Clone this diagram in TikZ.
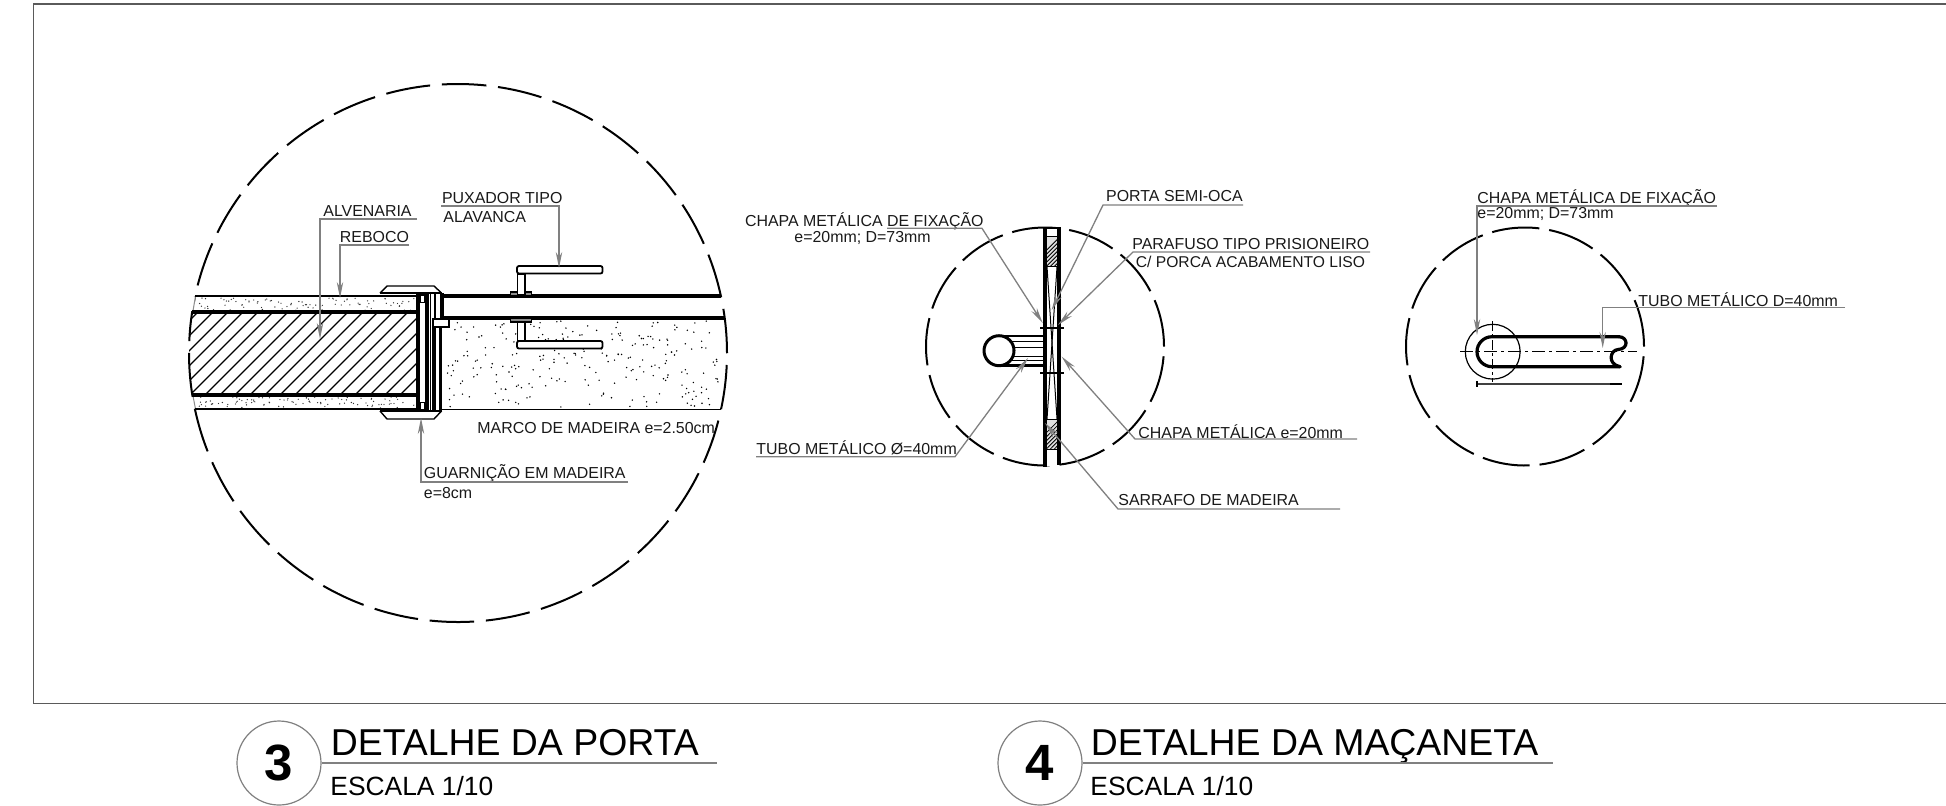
\documentclass[tikz,border=0pt]{standalone}
\usepackage{fontspec}
\setmainfont{Liberation Sans}
\usetikzlibrary{arrows.meta}
\definecolor{lead}{HTML}{808080}
\definecolor{framec}{HTML}{5A5A5A}
\tikzset{
 lab/.style={anchor=west,inner sep=0pt,font=\fontsize{7.96}{9}\selectfont,text=black!90},
 leader/.style={draw=lead,line width=.65pt},
 leadarrow/.style={draw=lead,line width=.65pt,-{Stealth[length=8pt,width=3.2pt,fill=lead]}},
 thick1/.style={line width=1.7pt,black},
 med1/.style={line width=1pt,black},
 thin1/.style={line width=.5pt,black},
 dashc/.style={line width=1pt,black,line cap=butt},
 ttl/.style={anchor=base west,inner sep=0pt,font=\fontsize{18.7}{20}\selectfont},
 sca/.style={anchor=base west,inner sep=0pt,font=\fontsize{13.2}{15}\selectfont},
 numc/.style={circle,draw=lead,line width=.6pt,minimum size=42pt,inner sep=0pt,font=\fontsize{25.5}{28}\selectfont\bfseries},
 dim1/.style={line width=.6pt,black!75},
}
\newcommand{\dashring}[6]{% cx cy r first-gap-centre period halfgap
  \pgfmathsetmacro{\nseg}{int(round(360/#5))-1}
  \foreach \k in {0,...,\nseg}{
    \pgfmathsetmacro{\aa}{#4+\k*#5+#6}
    \pgfmathsetmacro{\bb}{#4+(\k+1)*#5-#6}
    \draw[dashc] plot[smooth,domain=\aa:\bb,samples=9] ({#1+#3*cos(\x)},{#2-#3*sin(\x)});
  }}
\begin{document}
\begin{tikzpicture}[x=.5pt,y=-.5pt]
\useasboundingbox (0,0) rectangle (1946,805);
\fill[white] (0,0) rectangle (1946,805);
% frame
\draw[framec,line width=.7pt] (1946,4) -- (33.5,4) -- (33.5,703.5) -- (1946,703.5);

% ---------- DETAIL 3 ----------
% wall hatch
\begin{scope}
 \clip (458,353) circle[radius=134.5pt];
 \clip (185,312) rectangle (417,395);
 \foreach \i in {0,...,24}{
   \draw[line width=.55pt] ({100+\i*15},395) -- ({100+\i*15+83},312);
 }
\end{scope}
% render speckle
\pgfmathsetseed{11}
\foreach \i in {1,...,95}{
  \fill[black!80] ({198+rnd*218},{298+rnd*13}) circle[radius=.34pt];
  \fill[black!80] ({198+rnd*218},{397+rnd*11}) circle[radius=.34pt];
}
\foreach \i in {1,...,250}{
  \pgfmathsetmacro{\px}{446+rnd*274}
  \pgfmathsetmacro{\py}{321+rnd*86}
  \fill[black] (\px,\py) circle[radius=.4pt];
}
% break circle
\dashring{458}{353}{269}{34.7}{12}{1.25}
\fill[white] (185,297) rectangle (194.8,310.8);
\fill[white] (185,396.6) rectangle (194.8,408);
\draw[black!45,line width=.5pt] (195.5,296) -- (193,311);
\draw[black!45,line width=.5pt] (193,396) -- (195.5,409);
% wall lines
\draw[line width=.75pt] (195,296) -- (418,296);
\draw[line width=.75pt] (195,409) -- (418,409);
\draw[thick1] (192,312) -- (417,312);
\draw[thick1] (192,395) -- (417,395);
% door lines
\draw[thick1] (441,296) -- (721,296);
\draw[thick1] (441,318) -- (724.5,318);
\draw[line width=.85pt] (441,409.5) -- (721,409.5);
% frame and casing
\fill[white] (419,294) rectangle (441,410);
\draw[med1] (380,293) -- (441.5,293);
\draw[med1] (380,411) -- (441.5,411);
\draw[line width=.7pt] (380,293) -- (387,286) -- (434,286) -- (441.5,293);
\draw[line width=.7pt] (380,411) -- (387,419) -- (434,419) -- (441.5,411);
\draw[thick1] (418,293) -- (418,411);
\draw[thick1] (427,293) -- (427,411);
\draw[thin1] (430.5,293) -- (430.5,411);
\draw[line width=.8pt] (435,293) -- (435,411);
\draw[line width=.8pt] (433,326) -- (433,411);
\draw[thick1] (442,293) -- (442,318);
\draw[thick1] (440.5,327) -- (440.5,411);
\draw[line width=.7pt,fill=white] (420,295) rectangle (424.5,302.5);
\draw[line width=.7pt,fill=white] (420,402.5) rectangle (424.5,410);
\draw[line width=.7pt,fill=white] (433,319) rectangle (449,327);
% handle
\draw[line width=.6pt,fill=black!45] (510.5,292) rectangle (531.5,296);
\draw[line width=.6pt,fill=black!45] (510.5,318) rectangle (531.5,322);
\draw[line width=.9pt,fill=white] (517.5,274) rectangle (525,295);
\draw[line width=.9pt,fill=white] (517.5,322) rectangle (525,341);
\draw[line width=.9pt,fill=white,rounded corners=1pt] (517,266) rectangle (602.5,273.5);
\draw[line width=.9pt,fill=white,rounded corners=1pt] (517,341) rectangle (602.5,348.5);
% labels
\node[lab] (alv) at (323,211) {ALVENARIA};
\node[lab] (reb) at (339.5,237) {REBOCO};
\node[lab] (pux) at (441.7,198) {PUXADOR TIPO};
\node[lab] (ala) at (443,217.5) {ALAVANCA};
\node[lab] (mar) at (477,428) {MARCO DE MADEIRA e=2.50cm};
\node[lab] (gua) at (423.5,473) {GUARNIÇÃO EM MADEIRA};
\node[lab] (e8) at (423.5,493) {e=8cm};
\coordinate (alvA) at (417,219); \coordinate (alvB) at (320,219); \coordinate (alvT) at (320,339);
\coordinate (rebA) at (409,245); \coordinate (rebB) at (340,245); \coordinate (rebT) at (340,298);
\coordinate (puxA) at (441,206); \coordinate (puxB) at (559,206); \coordinate (puxT) at (559,268);
\coordinate (guaA) at (628,482); \coordinate (guaB) at (421,482); \coordinate (guaT) at (421,418);
\draw[leadarrow] (alvA) -- (alvB) -- (alvT);
\draw[leadarrow] (rebA) -- (rebB) -- (rebT);
\draw[leadarrow] (puxA) -- (puxB) -- (puxT);
\draw[leadarrow] (guaA) -- (guaB) -- (guaT);

% ---------- DETAIL 4 centre ----------
\dashring{1045}{346.5}{119}{-2.4}{27.7}{2.4}
\fill[white] (1046,229) rectangle (1058,466);
\foreach \yy/\yb in {236.7/266.7,419/449.3}{
 \begin{scope}
  \clip (1046.7,\yy) rectangle (1057,\yb);
  \fill[black!12] (1046.7,\yy) rectangle (1057,\yb);
  \foreach \i in {0,...,14}{\draw[line width=.4pt] ({1030+\i*4},\yb) -- ({1030+\i*4+30},\yy);}
 \end{scope}
 \draw[line width=.5pt] (1046.7,\yy) rectangle (1057,\yb);
}
\draw[thin1] (1047,266.7) -- (1057,419);
\draw[thin1] (1057,266.7) -- (1047,419);
\draw[thin1] (1046,228) -- (1058,228);
\draw[line width=1.9pt] (1045,227) -- (1045,467);
\draw[line width=1.9pt] (1058.7,227) -- (1058.7,465);
\draw[line width=.9pt] (1040,328.3) -- (1064,328.3);
\draw[line width=.9pt] (1040,373.3) -- (1064,373.3);
% tube
\draw[line width=.5pt] (1000,341.7) -- (1043,341.7);
\draw[line width=.5pt] (1012,347.3) -- (1043,347.3);
\draw[line width=.5pt] (1012,356.7) -- (1043,356.7);
\draw[line width=.5pt] (1003,360.7) -- (1043,360.7);
\draw[line width=1.1pt] (999,336) -- (1043,336);
\draw[line width=1.1pt] (999,365.5) -- (1043,365.5);
\draw[line width=1.5pt,fill=white] (999,350.7) circle[radius=7.5pt];
% labels
\node[lab] (cha) at (744.6,221) {CHAPA METÁLICA DE FIXAÇÃO};
\node[lab] (cha2) at (794,237.5) {e=20mm; D=73mm};
\node[lab] (por) at (1105.8,196) {PORTA SEMI-OCA};
\node[lab] (par) at (1132,244.5) {PARAFUSO TIPO PRISIONEIRO};
\node[lab,font=\fontsize{7.82}{9}\selectfont] (par2) at (1135.5,262) {C/ PORCA ACABAMENTO LISO};
\node[lab] (chm) at (1138,432) {CHAPA METÁLICA e=20mm};
\node[lab] (sar) at (1118,500) {SARRAFO DE MADEIRA};
\node[lab] (tub) at (756,448) {TUBO METÁLICO Ø=40mm};
\coordinate (chaA) at (887,228.3); \coordinate (chaB) at (982,228.3); \coordinate (chaT) at (1042.7,323);
\coordinate (porA) at (1243,205); \coordinate (porB) at (1103,205); \coordinate (porT) at (1051.7,310);
\coordinate (parA) at (1370,252); \coordinate (parB) at (1133,252); \coordinate (parT) at (1058,325);
\coordinate (chmA) at (1357,439); \coordinate (chmB) at (1135,439); \coordinate (chmT) at (1061.7,356.7);
\coordinate (sarA) at (1340,509); \coordinate (sarB) at (1118,509); \coordinate (sarT) at (1045,423);
\coordinate (tubA) at (756,456.7); \coordinate (tubB) at (955,456.7); \coordinate (tubT) at (1028,358);
\draw[leadarrow] (chaA) -- (chaB) -- (chaT);
\draw[leadarrow] (porA) -- (porB) -- (porT);
\draw[leadarrow] (parA) -- (parB) -- (parT);
\draw[leadarrow] (chmA) -- (chmB) -- (chmT);
\draw[leadarrow] (sarA) -- (sarB) -- (sarT);
\draw[leadarrow] (tubA) -- (tubB) -- (tubT);

% ---------- DETAIL 4 right ----------
\dashring{1525}{346.5}{119}{-2.4}{27.7}{2.4}
\draw[line width=.6pt] (1492.7,351.7) circle[radius=13.7pt];
\draw[line width=.75pt,dash pattern=on 6.5pt off 2pt on 1.5pt off 2pt] (1460,351.7) -- (1637,351.7);
\draw[line width=.7pt,dash pattern=on 5pt off 1.5pt on 1.5pt off 1.5pt] (1492.7,321) -- (1492.7,382);
\draw[line width=1.6pt,line cap=round] (1619,336.7) -- (1492,336.7) arc[start angle=90,end angle=270,radius=7.5pt] -- (1620,366.7);
\draw[line width=1.6pt,line cap=round] (1619,336.7) .. controls (1628,337) and (1629,349) .. (1618,349.5) .. controls (1610,350) and (1607,364) .. (1620,366.7);
\draw[dim1] (1477,384) -- (1622,384);
\draw[line width=1.1pt] (1477,381) -- (1477,387);
\draw[line width=1.4pt] (1610,384) -- (1622,384);
\node[lab] (chf) at (1477,198) {CHAPA METÁLICA DE FIXAÇÃO};
\node[lab] (chf2) at (1477,214) {e=20mm; D=73mm};
\node[lab] (tud) at (1638,299.8) {TUBO METÁLICO D=40mm};
\coordinate (chfA) at (1717,206); \coordinate (chfB) at (1477,206); \coordinate (chfT) at (1477,335);
\coordinate (tudA) at (1845,307.7); \coordinate (tudB) at (1602.7,307.7); \coordinate (tudT) at (1602.7,348);
\draw[leadarrow] (chfA) -- (chfB) -- (chfT);
\draw[leadarrow] (tudA) -- (tudB) -- (tudT);

% ---------- titles ----------
\node[numc] (n3) at (279,763) {3};
\node[ttl] (t3) at (330.5,755) {DETALHE DA PORTA};
\node[sca] (s3) at (330,795) {ESCALA 1/10};
\coordinate (l3) at (716.7,763);
\draw[leader,line width=.7pt] (n3.east) -- (l3);
\node[numc] (n4) at (1040,763) {4};
\node[ttl] (t4) at (1090.5,755) {DETALHE DA MAÇANETA};
\node[sca] (s4) at (1090,795) {ESCALA 1/10};
\coordinate (l4) at (1552.5,763);
\draw[leader,line width=.7pt] (n4.east) -- (l4);
\end{tikzpicture}
\end{document}
